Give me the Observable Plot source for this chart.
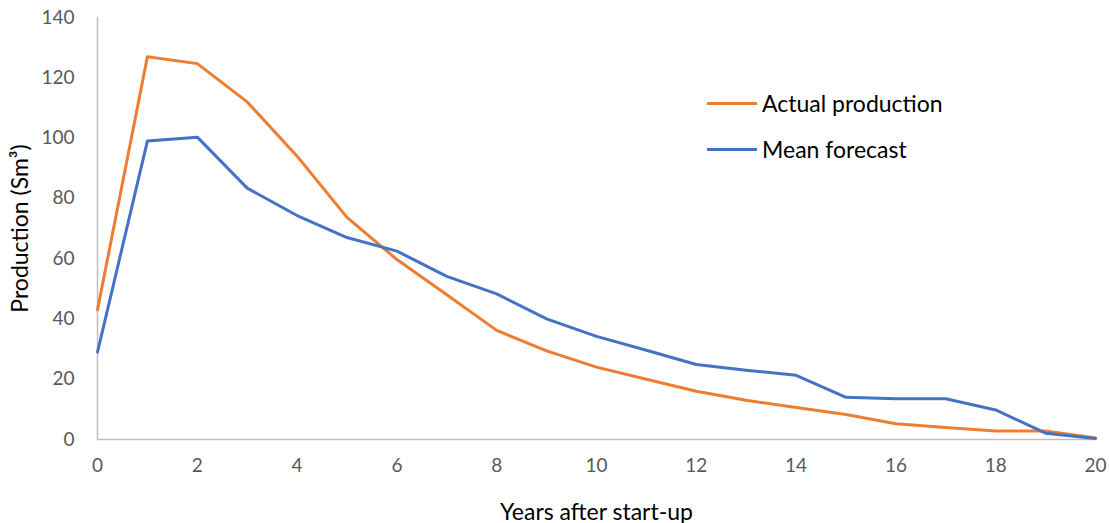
<!DOCTYPE html>
<html>
<head>
<meta charset="utf-8">
<script src="https://cdn.jsdelivr.net/npm/d3@7"></script>
<script src="https://cdn.jsdelivr.net/npm/@observablehq/plot@0.6"></script>
<style>
  html, body { margin: 0; padding: 0; background: #fff; }
  #wrap { position: relative; width: 1109px; height: 523px; font-family: Lato, "Open Sans", sans-serif; }
  #legend { position: absolute; left: 707px; top: 80px; font-size: 23px; color: #000; }
  .item { display: flex; align-items: center; height: 46px; }
  .sw { display: inline-block; width: 50px; height: 0; border-top: 3px solid; margin-right: 5px; }
</style>
</head>
<body>
<div id="wrap"></div>
<script>
const years = [0,1,2,3,4,5,6,7,8,9,10,11,12,13,14,15,16,17,18,19,20];
const actualProduction = [43,127,124.7,112,94,73.7,59.7,48,36.2,29.4,24,20,16,13,10.6,8.3,5.2,4,2.8,2.8,0.5];
const meanForecast = [29,99,100.3,83.4,74.3,67,62.5,54.1,48.3,40,34.2,29.6,24.9,23,21.3,14,13.5,13.5,9.8,2.1,0.3];
const seriesNames = ["Actual production", "Mean forecast"];
const seriesColors = ["#ED7D31", "#4472C4"];
const yTicks = [0,20,40,60,80,100,120,140];
const xTicks = [0,2,4,6,8,10,12,14,16,18,20];

const data = [];
years.forEach((yr, i) => {
  data.push({year: yr, value: actualProduction[i], series: seriesNames[0]});
  data.push({year: yr, value: meanForecast[i], series: seriesNames[1]});
});

const chart = Plot.plot({
  width: 1109,
  height: 523,
  marginLeft: 97,
  marginRight: 14,
  marginTop: 17,
  marginBottom: 84,
  style: {fontFamily: "Lato, 'Open Sans', sans-serif", background: "#fff"},
  x: {domain: [0, 20], ticks: xTicks, label: null},
  y: {domain: [0, 140], ticks: yTicks, label: null},
  color: {domain: seriesNames, range: seriesColors},
  marks: [
    Plot.ruleX([0], {stroke: "#bfbfbf", strokeWidth: 1.5}),
    Plot.ruleY([0], {stroke: "#bfbfbf", strokeWidth: 1.5}),
    Plot.axisY({ticks: yTicks, tickSize: 0, tickPadding: 23, fontSize: 19, fill: "#595959",
      label: "Production (Sm³)", labelAnchor: "center", labelArrow: "none", labelOffset: 86}),
    Plot.axisX({ticks: xTicks, tickSize: 0, tickPadding: 19, fontSize: 19, fill: "#595959",
      label: "Years after start-up", labelAnchor: "center", labelArrow: "none", labelOffset: 80}),
    Plot.line(data, {x: "year", y: "value", z: "series", stroke: "series", strokeWidth: 3,
      strokeLinejoin: "round", strokeLinecap: "round", sort: [{channel: "x"}]})
  ]
});
document.getElementById("wrap").appendChild(chart);

// style axis titles (black, larger)
d3.select(chart).selectAll("[aria-label='y-axis label'] text, [aria-label='x-axis label'] text")
  .attr("fill", "#000").style("font-size", "23px");

const legend = document.createElement("div");
legend.id = "legend";
seriesNames.forEach((name, i) => {
  const it = document.createElement("div");
  it.className = "item";
  const sw = document.createElement("span");
  sw.className = "sw";
  sw.style.borderTopColor = seriesColors[i];
  it.appendChild(sw);
  it.appendChild(document.createTextNode(name));
  legend.appendChild(it);
});
document.getElementById("wrap").appendChild(legend);
</script>
</body>
</html>
